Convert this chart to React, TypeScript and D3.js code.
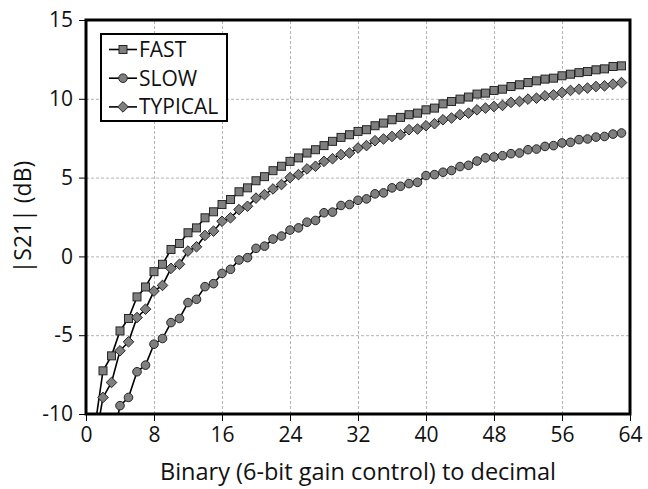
import { useEffect, useRef } from 'react';
import * as d3 from 'd3';

// gain code 1..63
const codes = d3.range(1, 64);

const fast = [
    -11, -7.26, -6.31, -4.73, -3.94, -2.57, -1.94, -0.97, -0.5, 0.44,
    0.82, 1.5, 1.81, 2.45, 2.83, 3.29, 3.61, 4.1, 4.35, 4.8,
    5.06, 5.44, 5.72, 6.03, 6.25, 6.56, 6.77, 7.03, 7.3, 7.55,
    7.72, 7.93, 8.04, 8.29, 8.46, 8.67, 8.82, 8.99, 9.09, 9.3,
    9.41, 9.68, 9.83, 9.98, 10.11, 10.3, 10.36, 10.53, 10.61, 10.78,
    10.89, 11.03, 11.14, 11.25, 11.31, 11.46, 11.56, 11.66, 11.73, 11.84,
    11.9, 12.05, 12.09,
];

const slow = [
    -16, -14, -12.1, -9.47, -8.95, -7.32, -6.9, -5.57, -5.21, -4.2,
    -3.94, -2.93, -2.72, -1.92, -1.73, -1.08, -0.82, -0.23, -0.08, 0.51,
    0.65, 1.1, 1.29, 1.67, 1.81, 2.17, 2.28, 2.77, 2.81, 3.23,
    3.29, 3.56, 3.65, 3.97, 4.03, 4.35, 4.45, 4.62, 4.7, 5.13,
    5.19, 5.34, 5.45, 5.7, 5.78, 6.05, 6.25, 6.31, 6.39, 6.52,
    6.56, 6.77, 6.81, 6.98, 7.03, 7.2, 7.24, 7.41, 7.45, 7.57,
    7.61, 7.76, 7.83,
];

const typical = [
    -12, -8.95, -8.0, -5.99, -5.42, -3.88, -3.35, -2.2, -1.84, -0.76,
    -0.5, 0.34, 0.61, 1.33, 1.6, 2.23, 2.45, 2.97, 3.18, 3.7,
    3.92, 4.28, 4.56, 5.0, 5.19, 5.55, 5.72, 6.03, 6.2, 6.46,
    6.56, 6.88, 7.03, 7.34, 7.45, 7.61, 7.72, 8.04, 8.08, 8.29,
    8.42, 8.67, 8.78, 8.99, 9.09, 9.3, 9.41, 9.51, 9.58, 9.77,
    9.83, 9.98, 10.04, 10.19, 10.25, 10.4, 10.53, 10.61, 10.68, 10.78,
    10.82, 10.93, 11.03,
];

const xTicks = [0, 8, 16, 24, 32, 40, 48, 56, 64];
const yTicks = [-10, -5, 0, 5, 10, 15];

const seriesNames = ['FAST', 'SLOW', 'TYPICAL'];
const seriesMarkers = ['square', 'circle', 'diamond'];

const FONT = '"Open Sans", sans-serif';

export default function App() {
    const svgRef = useRef<SVGSVGElement>(null);

    useEffect(() => {
        if (!svgRef.current) return;
        const svg = d3.select(svgRef.current);
        svg.selectAll('*').remove();

        const W = 648;
        const H = 489;
        const margin = { top: 20, right: 18, bottom: 75, left: 86 };
        const innerWidth = W - margin.left - margin.right;
        const innerHeight = H - margin.top - margin.bottom;

        const x = d3.scaleLinear().domain([0, 64]).range([0, innerWidth]);
        const y = d3.scaleLinear().domain([-10, 15]).range([innerHeight, 0]);

        const defs = svg.append('defs');
        defs.append('clipPath')
            .attr('id', 'plotClip')
            .append('rect')
            .attr('width', innerWidth)
            .attr('height', innerHeight);

        const g = svg
            .append('g')
            .attr('transform', `translate(${margin.left},${margin.top})`);

        // Grid lines (dashed)
        g.append('g')
            .call(d3.axisLeft(y).tickValues(yTicks.slice(1, -1)).tickSize(-innerWidth).tickFormat(() => ''))
            .call((g) => g.select('.domain').remove())
            .call((g) => g.selectAll('.tick line').attr('stroke', '#b4b4b4').attr('stroke-dasharray', '3 2'));

        g.append('g')
            .attr('transform', `translate(0,${innerHeight})`)
            .call(d3.axisBottom(x).tickValues(xTicks.slice(1, -1)).tickSize(-innerHeight).tickFormat(() => ''))
            .call((g) => g.select('.domain').remove())
            .call((g) => g.selectAll('.tick line').attr('stroke', '#b4b4b4').attr('stroke-dasharray', '3 2'));

        // Axes
        g.append('g')
            .attr('transform', `translate(0,${innerHeight})`)
            .call(d3.axisBottom(x).tickValues(xTicks).tickSize(7).tickPadding(6).tickFormat((d) => String(d)))
            .call((g) => g.select('.domain').remove())
            .call((g) => g.selectAll('.tick line').attr('stroke', '#000'))
            .call((g) =>
                g.selectAll('.tick text')
                    .attr('fill', '#111')
                    .attr('font-family', FONT)
                    .attr('font-size', '21px')
            );

        g.append('g')
            .call(d3.axisLeft(y).tickValues(yTicks).tickSize(7).tickPadding(6).tickFormat((d) => String(d)))
            .call((g) => g.select('.domain').remove())
            .call((g) => g.selectAll('.tick line').attr('stroke', '#000'))
            .call((g) =>
                g.selectAll('.tick text')
                    .attr('fill', '#111')
                    .attr('font-family', FONT)
                    .attr('font-size', '21px')
            );

        // Series
        const allSeries = [fast, slow, typical];
        const line = d3
            .line<number>()
            .x((_, i) => x(codes[i]))
            .y((d) => y(d));

        const plot = g.append('g').attr('clip-path', 'url(#plotClip)');

        const drawMarker = (sel: any, kind: string) => {
            if (kind === 'square') {
                sel.append('rect')
                    .attr('x', -4)
                    .attr('y', -4)
                    .attr('width', 8)
                    .attr('height', 8);
            } else if (kind === 'circle') {
                sel.append('circle').attr('r', 4.3);
            } else {
                sel.append('path').attr('d', 'M0,-5.3L5.3,0L0,5.3L-5.3,0Z');
            }
            sel.selectAll('rect,circle,path')
                .attr('fill', '#7f7f7f')
                .attr('stroke', '#262626')
                .attr('stroke-width', 1);
        };

        allSeries.forEach((vals, si) => {
            plot.append('path')
                .datum(vals)
                .attr('fill', 'none')
                .attr('stroke', '#000')
                .attr('stroke-width', 1.6)
                .attr('d', line);

            plot.selectAll(`.m-${si}`)
                .data(vals)
                .enter()
                .append('g')
                .attr('class', `m-${si}`)
                .attr('transform', (d, i) => `translate(${x(codes[i])},${y(d)})`)
                .each(function () {
                    drawMarker(d3.select(this), seriesMarkers[si]);
                });
        });

        // Frame
        g.append('rect')
            .attr('width', innerWidth)
            .attr('height', innerHeight)
            .attr('fill', 'none')
            .attr('stroke', '#000')
            .attr('stroke-width', 3);

        // Legend
        const legend = g.append('g').attr('transform', 'translate(15,14)');
        legend.append('rect')
            .attr('width', 126)
            .attr('height', 87)
            .attr('fill', '#fff')
            .attr('stroke', '#000')
            .attr('stroke-width', 2);

        seriesNames.forEach((name, i) => {
            const row = legend.append('g').attr('transform', `translate(0,${15.5 + i * 28.7})`);
            row.append('line')
                .attr('x1', 8)
                .attr('x2', 36)
                .attr('stroke', '#000')
                .attr('stroke-width', 1.6);
            const m = row.append('g').attr('transform', 'translate(22,0)');
            drawMarker(m, seriesMarkers[i]);
            row.append('text')
                .attr('x', 38)
                .attr('y', 7.5)
                .attr('font-family', FONT)
                .attr('font-size', '21px')
                .attr('fill', '#111')
                .text(name);
        });

        // Axis titles
        svg.append('text')
            .attr('x', margin.left + innerWidth / 2)
            .attr('y', 480)
            .attr('text-anchor', 'middle')
            .attr('font-family', FONT)
            .attr('font-size', '23.5px')
            .attr('fill', '#111')
            .text('Binary (6-bit gain control) to decimal');

        svg.append('text')
            .attr('transform', `translate(31,${margin.top + innerHeight / 2}) rotate(-90)`)
            .attr('text-anchor', 'middle')
            .attr('font-family', FONT)
            .attr('font-size', '23px')
            .attr('fill', '#111')
            .text('|S21| (dB)');
    }, []);

    return (
        <svg
            ref={svgRef}
            width={648}
            height={489}
            style={{ position: 'absolute', left: 0, top: 0, background: '#fff' }}
        />
    );
}
